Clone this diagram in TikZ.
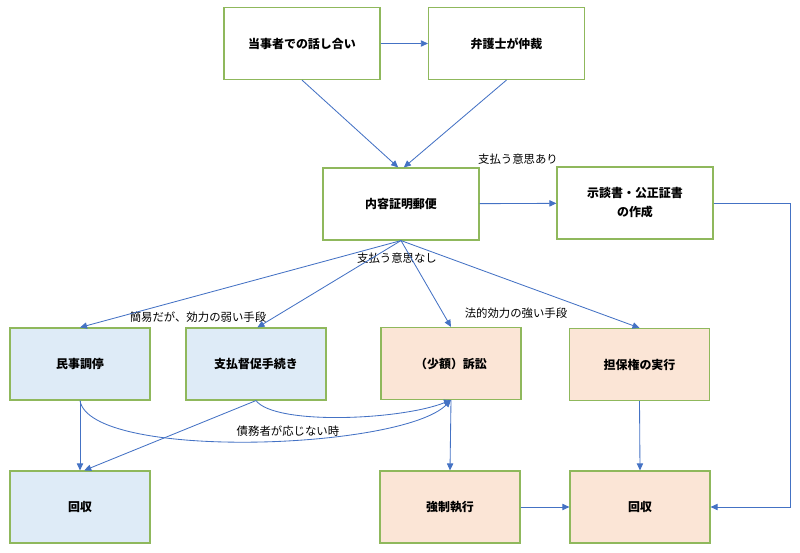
\documentclass[tikz,border=0pt]{standalone}
\usepackage{fontspec}
\setmainfont{Noto Sans CJK JP}
\usetikzlibrary{positioning,arrows.meta}
\definecolor{boxline}{RGB}{143,184,92}
\definecolor{arrowblue}{RGB}{68,114,196}
\definecolor{paleblue}{RGB}{222,235,247}
\definecolor{paleorange}{RGB}{251,229,214}

\begin{document}
\begin{tikzpicture}[x=0.025cm,y=-0.025cm,
    main node/.style={rectangle,draw=boxline,line width=0.8pt,minimum height=1.8cm,align=center,
                      font=\fontsize{8.5}{13.5}\selectfont\bfseries},
    wide node/.style={main node,minimum width=3.9cm},
    blue node/.style={main node,fill=paleblue,minimum width=3.5cm},
    orange node/.style={main node,fill=paleorange,minimum width=3.5cm},
    edge label/.style={font=\fontsize{8.1}{10}\selectfont},
    connector/.style={draw=arrowblue,line width=0.6pt,-{Triangle[length=5pt,width=4.5pt]}},
    every edge/.style={connector}
  ]
  \useasboundingbox (0,0) rectangle (800,552);

  \node[wide node] (1) at (302,43.5) {当事者での話し合い};
  \node[wide node] (2) at (506.5,43.5) {弁護士が仲裁};
  \node[wide node] (3) at (401,204) {内容証明郵便};
  \node[wide node] (4) at (635,203) {示談書・公正証書\\の作成};
  \node[blue node] (5) at (80,364) {民事調停};
  \node[blue node] (6) at (256,364) {支払督促手続き};
  \node[orange node] (7) at (451,363.5) {（少額）訴訟};
  \node[orange node] (8) at (639.5,364.5) {担保権の実行};
  \node[blue node] (9) at (80,507) {回収};
  \node[orange node] (10) at (450,507) {強制執行};
  \node[orange node] (11) at (640,507) {回収};

  % labels on the branches
  \node[edge label] (yes) at (518,159) {支払う意思あり};
  \node[edge label] (no) at (397,258) {支払う意思なし};
  \node[edge label] (weak) at (198,317) {簡易だが、効力の弱い手段};
  \node[edge label] (strong) at (516,313) {法的効力の強い手段};
  \node[edge label] (refuse) at (288,431) {債務者が応じない時};

  \path%
    (1) edge (2)
    (1.south) edge ([xshift=-2pt]3.north)
    (2.south) edge ([xshift=2pt]3.north)
    (3) edge (4)
    (3.south) edge (5.north)
    (3.south) edge ([xshift=1pt]6.north)
    (3.south) edge (7.north)
    (3.south) edge (8.north)
    (5.south) edge (9.north)
    (6.south) edge ([xshift=3pt]9.north)
    (7.south) edge (10.north)
    (8.south) edge (11.north)
    (10) edge (11);

  % curved ones into the lawsuit
  \draw[connector] (5.south) .. controls +(10,60) and +(-50,50) .. (7.south);
  \draw[connector] (6.south) .. controls +(19,25) and +(-50,20) .. (7.south);
  \draw[connector] (4.east) -- ++(77,0) |- (11.east);
\end{tikzpicture}
\end{document}
